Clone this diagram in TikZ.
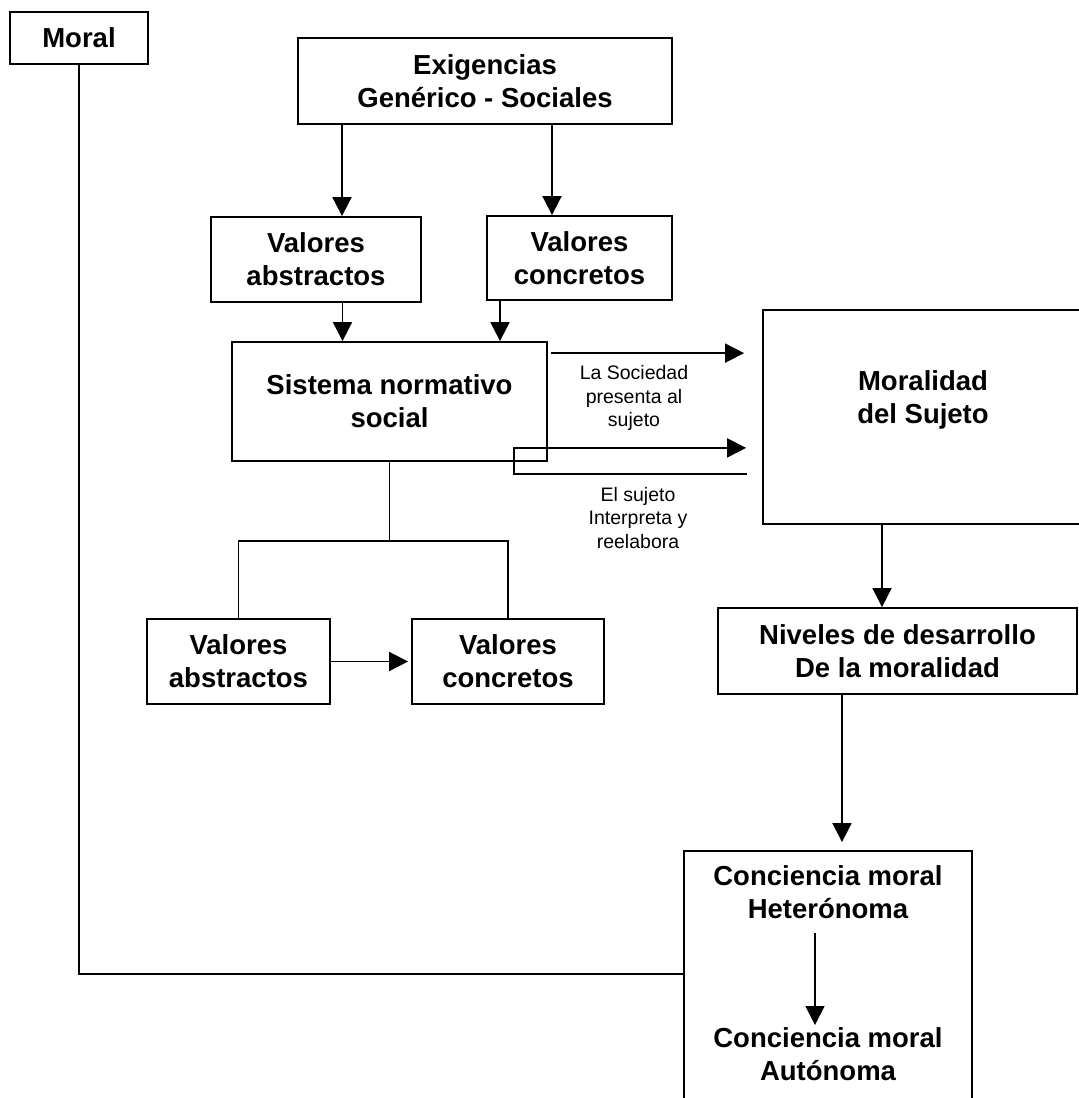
\documentclass[tikz,border=0pt]{standalone}
\usepackage{fontspec}
\setmainfont{Liberation Sans}
\usetikzlibrary{arrows.meta,calc}
\begin{document}
\begin{tikzpicture}[x=1pt,y=-1pt,
  box/.style={draw, line width=1.8pt, inner sep=0pt, align=center, font=\fontsize{27.5pt}{33pt}\selectfont\bfseries},
  txt/.style={inner sep=0pt, align=center, font=\fontsize{27.5pt}{33pt}\selectfont\bfseries},
  lbl/.style={inner sep=0pt, align=center, font=\fontsize{19.5pt}{23.5pt}\selectfont},
  conn/.style={line width=1.8pt},
  arr/.style={conn, -{Triangle[width=19pt,length=19pt]}}]
\fill[white] (0,0) rectangle (1079,1098);
\useasboundingbox (0,0) rectangle (1079,1098);

\node[box, minimum width=138pt, minimum height=52pt] (moral) at (79,38) {Moral};
\node[box, minimum width=374pt, minimum height=86pt] (exig) at (485,81) {Exigencias\\Genérico - Sociales};
\node[box, minimum width=210pt, minimum height=85pt] (va1) at (316,259.5) {Valores\\abstractos};
\node[box, minimum width=185pt, minimum height=84pt] (vc1) at (579.5,258) {Valores\\concretos};
\node[box, minimum width=315pt, minimum height=119pt] (sis) at (389.5,401.5) {Sistema normativo\\social};
\node[box, minimum width=183pt, minimum height=85pt] (va2) at (238.5,661.5) {Valores\\abstractos};
\node[box, minimum width=192pt, minimum height=85pt] (vc2) at (508,661.5) {Valores\\concretos};
\node[box, minimum width=320pt, minimum height=214pt] (mor) at (923,417) {};
\node[txt] (mort) at (923,400) {Moralidad\\del Sujeto};
\node[box, minimum width=359pt, minimum height=86pt] (niv) at (897.5,651) {Niveles de desarrollo\\De la moralidad};
\node[box, minimum width=288pt, minimum height=260pt] (cb) at (828,981) {};
\node[txt] (het) at (828,892.5) {Conciencia moral\\Heterónoma};
\node[txt] (aut) at (828,1054.5) {Conciencia moral\\Autónoma};
\node[lbl] (l1) at (634,398) {La Sociedad\\presenta al\\sujeto};
\node[lbl] (l2) at (638,518) {El sujeto\\Interpreta y\\reelabora};

\draw[arr] ($(exig.south)+(-143,0)$) -- ($(va1.north)+(26,0)$);
\draw[arr] ($(exig.south)+(67,0)$) -- ($(vc1.north)+(-27.5,0)$);
\draw[arr] ($(va1.south)+(26.5,0)$) -- ($(sis.north)+(-47,0)$);
\draw[arr] ($(vc1.south)+(-79.5,0)$) -- ($(sis.north)+(110.5,0)$);
\draw[arr] ($(sis.north east)+(3,12)$) -- ($(mor.north west)+(-18,44)$);
\draw[arr] ($(mor.south west)+(-15,-51)$) -- ($(sis.south east)+(-34,12)$) -- ($(sis.south east)+(-34,-14)$) -- ($(mor.south west)+(-16,-77)$);
\coordinate (jn) at ($(sis.south)+(0,79)$);
\draw[conn] (sis.south) -- (jn);
\draw[conn] (va2.north) |- (jn) -| (vc2.north);
\draw[arr, shorten >=3pt] (va2.east) -- (vc2.west);
\draw[arr] ($(mor.south)+(-41,0)$) -- ($(niv.north)+(-15.5,0)$);
\draw[arr, shorten >=8pt] ($(niv.south)+(-55.5,0)$) -- ($(cb.north)+(14,0)$);
\draw[arr] ($(het)+(-13,40.5)$) -- ($(aut)+(-13,-29.5)$);
\draw[conn] (moral.south) |- ($(cb.west)+(0,-7)$);
\end{tikzpicture}
\end{document}
